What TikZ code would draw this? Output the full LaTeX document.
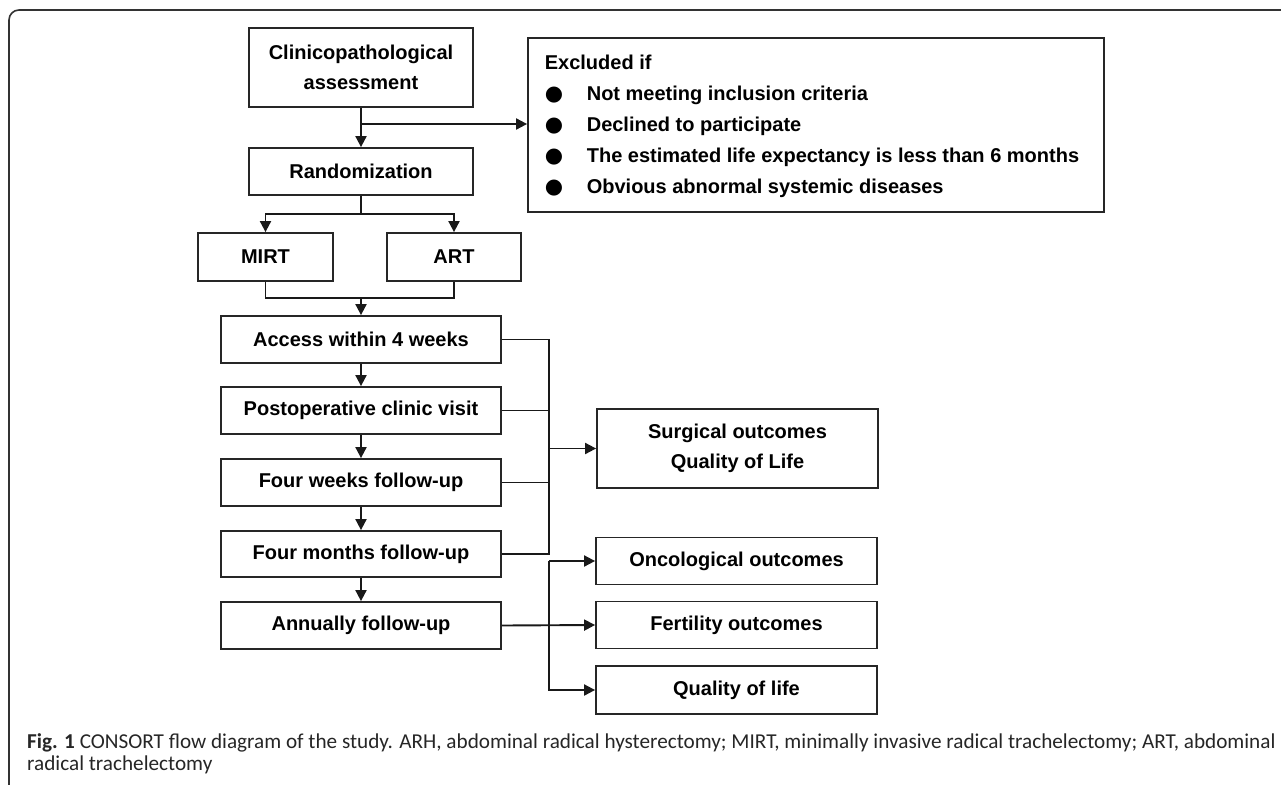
\documentclass[tikz,border=0pt]{standalone}
\usepackage{fontspec}
\setmainfont{Liberation Sans}
\newfontfamily\capfont{Carlito}
\newfontfamily\bulfont{DejaVu Sans}
\usetikzlibrary{arrows.meta}
\tikzset{
  box/.style={draw=black!85, line width=1.8pt, inner sep=0pt, align=center,
    font=\fontsize{20}{30.5}\selectfont\bfseries},
  conn/.style={draw=black!90, line width=1.9pt},
  arr/.style={conn, -{Triangle[length=11pt,width=11pt]}},
}
\newcommand{\blt}{\makebox[42pt][l]{\bulfont\fontsize{21}{21}\selectfont ●}}
\begin{document}
\begin{tikzpicture}[x=1pt,y=-1pt]
\useasboundingbox (0,0) rectangle (1281,784);
\draw[rounded corners=10pt, line width=1.6pt, black!80] (1300,10) -- (9,10) -- (9,800);

\node[box, minimum width=224, minimum height=79] (clin) at (361,67.5) {Clinicopathological\\assessment};
\node[box, minimum width=224, minimum height=47] (rand) at (361,171.5) {Randomization};
\node[box, minimum width=135, minimum height=48] (mirt) at (265.5,257) {MIRT};
\node[box, minimum width=134, minimum height=48] (art) at (454,257) {ART};
\node[box, minimum width=280, minimum height=47] (acc) at (361,339.5) {Access within 4 weeks};
\node[box, minimum width=280, minimum height=47] (post) at (361,410.5) {Postoperative clinic visit};
\node[box, minimum width=280, minimum height=47] (weeks) at (361,482.5) {Four weeks follow-up};
\node[box, minimum width=280, minimum height=46] (months) at (361,554) {Four months follow-up};
\node[box, minimum width=280, minimum height=47] (annual) at (361,625.5) {Annually follow-up};
\node[box, minimum width=281, minimum height=79] (surg) at (737.5,448.5) {Surgical outcomes\\Quality of Life};
\node[box, minimum width=281, minimum height=47] (onc) at (736.5,561) {Oncological outcomes};
\node[box, minimum width=281, minimum height=47] (fert) at (736.5,625) {Fertility outcomes};
\node[box, minimum width=281, minimum height=48] (qol) at (736.5,690) {Quality of life};
\node[box, minimum width=576, minimum height=174, align=left, font=\fontsize{20}{31}\selectfont\bfseries] (excl) at (816,125)
{\begin{tabular}{@{}l@{}l@{}}
\multicolumn{2}{@{}l@{}}{Excluded if}\\
\blt & Not meeting inclusion criteria\\
\blt & Declined to participate\\
\blt & The estimated life expectancy is less than 6 months\\
\blt & Obvious abnormal systemic diseases
\end{tabular}\hspace*{8pt}};

% connectors
\draw[arr] (clin) -- (rand);
\coordinate (b1) at (361,124);
\draw[arr] (b1) -- (b1 -| excl.west);
\draw[arr] (rand.south) -- ++(0,18) -| (mirt.north);
\draw[arr] (rand.south) -- ++(0,18) -| (art.north);
\coordinate (mg) at (361,298);
\draw[conn] (mirt.south) |- (mg) -| (art.south);
\draw[arr] (mg) -- (acc.north);
\draw[arr] (acc) -- (post);
\draw[arr] (post) -- (weeks);
\draw[arr] (weeks) -- (months);
\draw[arr] (months) -- (annual);
\draw[conn] (acc.east) -- ++(47,0) coordinate (ba) -- (ba |- months.east) -- (months.east);
\draw[conn] (post.east) -- (post.east -| ba);
\draw[conn] (weeks.east) -- (weeks.east -| ba);
\draw[arr] (ba |- surg.west) -- (surg.west);
\coordinate (bb) at (549,625);
\draw[arr] (annual.east) -- (fert.west);
\draw[arr] (bb |- onc.west) -- (onc.west);
\draw[arr] (bb |- onc.west) |- (qol.west);

\node[anchor=north west, inner sep=0pt, align=left, text=black!85,
  font=\capfont\fontsize{21.2}{22.5}\selectfont] (cap) at (27,733)
{\textbf{Fig. 1} CONSORT flow diagram of the study. ARH, abdominal radical hysterectomy; MIRT, minimally invasive radical trachelectomy; ART, abdominal\\radical trachelectomy};
\end{tikzpicture}
\end{document}
